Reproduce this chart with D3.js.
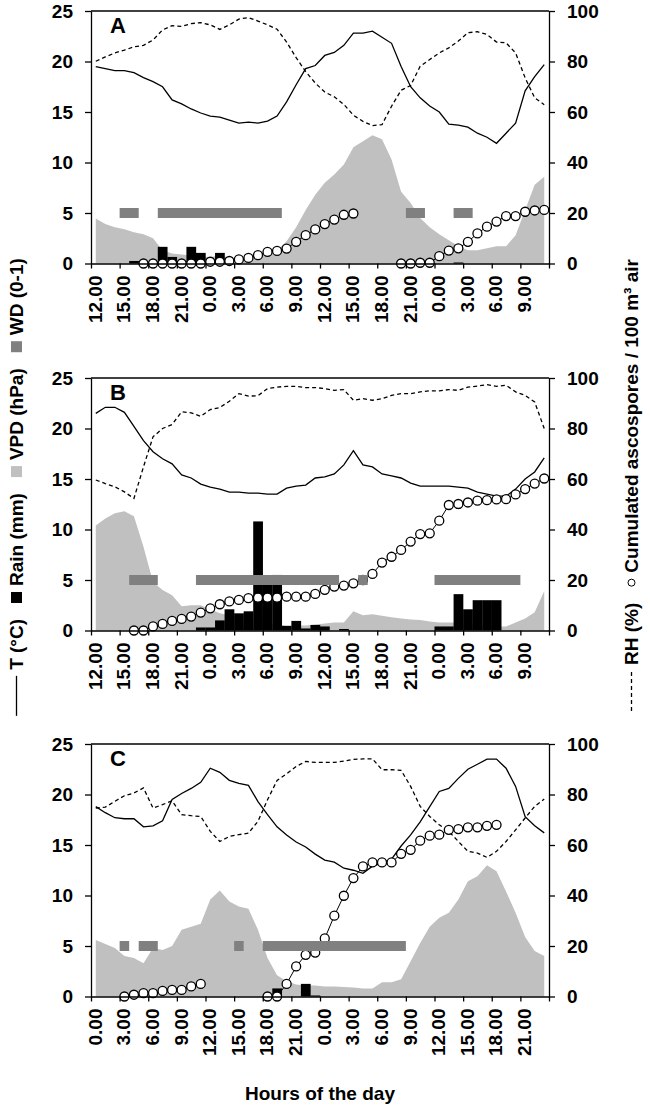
<!DOCTYPE html>
<html><head><meta charset="utf-8">
<script src="https://cdn.jsdelivr.net/npm/d3@7"></script>
<style>body{margin:0;background:#fff}svg{display:block}</style>
</head><body>
<svg id="c" width="650" height="1115"></svg>
<script>
// ---------- DATA (hourly, 48 categories per panel) ----------
const ticksAB = ["12.00","15.00","18.00","21.00","0.00","3.00","6.00","9.00","12.00","15.00","18.00","21.00","0.00","3.00","6.00","9.00"];
const ticksC  = ["0.00","3.00","6.00","9.00","12.00","15.00","18.00","21.00","0.00","3.00","6.00","9.00","12.00","15.00","18.00","21.00"];
const leftTicks = [0,5,10,15,20,25];
const rightTicks = [0,20,40,60,80,100];

const tempA = [19.5,19.3,19.1,19.1,18.9,18.4,18.0,17.5,16.2,15.8,15.3,14.9,14.6,14.5,14.2,13.9,14.0,13.9,14.1,14.6,16.0,17.7,19.3,19.6,20.6,20.9,21.6,22.8,22.8,23.0,22.4,21.8,19.5,17.5,16.4,15.6,15.0,13.8,13.7,13.5,12.9,12.5,11.9,12.9,13.9,17.1,18.5,19.7];
const rhA = [80.1,81.8,83.4,84.5,85.8,86.4,88.5,92.5,94.2,93.9,95.0,95.4,94.5,92.7,94.5,96.8,97.4,96.0,94.5,92.8,87.7,81.5,76.0,71.5,67.9,66.0,63.0,58.7,56.3,54.6,55.0,62.3,68.6,70.5,78.1,80.8,83.4,85.4,88.1,91.4,91.8,90.7,87.7,87.4,83.4,73.5,65.6,62.9];
const vpdA = [4.45,3.9,3.6,3.4,3.1,2.9,2.5,1.3,1.0,0.9,0.8,0.7,0.65,0.8,0.6,0.3,0.5,0.8,1.0,1.3,2.2,3.6,5.3,6.8,8.0,8.8,9.8,11.5,12.1,12.7,12.3,10.3,7.1,6.0,4.5,3.6,2.9,2.3,1.7,1.3,1.3,1.5,1.7,1.7,2.8,5.3,7.8,8.6];
const rainA = [0,0,0,0,0.25,0,0,1.65,0.65,0,1.65,1.05,0,1.05,0,0,0,0,0,0,0,0,0,0,0,0,0,0,0,0,0,0,0,0,0,0,0,0,0.1,0,0,0,0,0,0,0,0,0];
const wdA = [0,0,0,1,1,0,0,1,1,1,1,1,1,1,1,1,1,1,1,1,0,0,0,0,0,0,0,0,0,0,0,0,0,1,1,0,0,0,1,1,0,0,0,0,0,0,0,0];
const sporesA = [null,null,null,null,null,0,0,0,0,0,0,0,0.7,0.7,1.0,1.6,2.2,3.3,4.6,5.0,5.9,8.6,11.2,13.5,15.6,17.4,19.3,19.8,null,null,null,null,0,0,0.3,0.3,2.9,5.1,6.0,8.6,11.9,14.6,16.6,18.8,18.8,20.5,21.0,21.2];

const tempB = [21.5,22.1,22.1,21.6,20.2,18.8,17.7,17.0,16.5,15.4,15.1,14.5,14.2,14.0,13.7,13.7,13.6,13.6,13.5,13.5,14.1,14.3,14.4,15.1,15.2,15.5,16.4,17.8,16.4,16.2,15.5,15.3,15.1,14.6,14.3,14.3,14.3,14.3,14.2,14.1,13.7,13.5,13.3,13.3,14.0,15.0,15.7,17.1];
const rhB = [59.6,58.2,56.9,54.9,52.3,64.8,76.7,80.0,81.6,86.6,86.2,84.8,87.5,88.3,90.8,93.8,92.8,93.0,95.8,96.4,96.7,96.7,96.2,96.2,95.8,95.1,95.4,91.2,91.8,91.2,91.8,93.1,93.8,93.8,94.5,94.9,94.9,95.4,95.1,96.4,96.8,97.4,96.7,97.1,94.5,93.1,90.5,80.0];
const vpdB = [10.4,11.1,11.6,11.8,11.3,8.3,4.8,4.0,3.5,2.4,2.5,2.5,2.1,1.7,1.5,1.2,1.0,0.9,0.8,0.6,0.5,0.5,0.5,0.6,0.7,0.8,0.8,1.9,1.5,1.6,1.45,1.3,1.2,1.1,1.05,0.9,0.8,0.8,0.8,0.7,0.6,0.5,0.4,0.4,0.8,1.2,1.8,3.9];
const rainB = [0,0,0,0,0,0,0,0,0,0,0,0.3,0.3,1.0,2.1,1.7,1.9,10.8,5.2,5.5,0.45,0.95,0.2,0.55,0.4,0,0.15,0,0,0,0,0,0,0,0,0,0.4,0.4,3.6,2.1,3.0,3.0,3.0,0,0,0,0,0];
const wdB = [0,0,0,0,1,1,1,0,0,0,0,1,1,1,1,1,1,1,1,1,1,1,1,1,1,1,0,0,1,0,0,0,0,0,0,0,1,1,1,1,1,1,1,1,1,0,0,0];
const sporesB = [null,null,null,null,0,0,1.6,2.6,3.8,4.6,5.5,7.1,8.8,10.4,11.5,12.1,12.8,13.0,13.0,13.0,13.4,13.4,13.4,14.5,16.1,17.4,17.8,18.7,20.0,22.4,26.9,29.2,31.9,35.2,38.2,38.5,43.5,49.7,50.1,50.7,51.4,51.6,51.9,52.0,53.9,56.0,58.2,60.2];

const tempC = [18.8,18.2,17.7,17.6,17.6,16.8,16.9,17.4,19.5,20.1,20.6,21.2,22.6,22.2,21.4,21.1,20.9,19.3,18.0,16.8,16.0,15.3,14.8,14.1,13.5,13.3,12.7,12.5,12.2,12.9,13.2,13.6,14.9,16.0,17.3,18.8,20.3,20.6,21.6,22.5,23.0,23.5,23.5,22.6,20.8,17.8,16.9,16.2];
const rhC = [74.6,75.0,77.3,79.5,80.6,82.6,74.6,76.0,77.5,72.0,71.6,71.3,65.4,61.4,63.4,64.1,64.7,69.4,77.9,85.6,88.2,91.1,93.1,92.7,92.7,92.7,93.2,93.9,94.1,94.1,89.8,89.8,89.6,83.2,75.3,71.3,68.0,65.4,61.4,57.5,56.8,55.1,57.5,61.4,66.0,70.7,75.3,78.2];
const vpdC = [5.6,5.2,4.8,4.0,3.8,3.3,4.8,4.6,5.0,6.6,6.9,7.2,9.6,10.5,9.4,8.9,8.7,6.6,3.8,2.1,1.5,1.2,1.1,1.1,1.0,1.0,0.95,0.9,0.8,0.8,1.4,1.4,1.7,3.5,5.3,6.9,7.8,8.3,9.6,11.4,11.9,13.0,12.4,10.4,8.3,5.9,4.5,4.0];
const rainC = [0,0,0,0,0,0,0,0,0,0,0,0,0,0,0,0,0,0,0,0.8,0,0,1.25,0.1,0,0,0,0,0,0,0,0,0,0,0,0,0,0,0,0,0,0,0,0,0,0,0,0];
const wdC = [0,0,0,1,0,1,1,0,0,0,0,0,0,0,0,1,0,0,1,1,1,1,1,1,1,1,1,1,1,1,1,1,1,0,0,0,0,0,0,0,0,0,0,0,0,0,0,0];
const sporesC = [null,null,null,0,0.7,1.3,1.3,2.2,2.6,2.6,4.0,5.0,null,null,null,null,null,null,0,0,5.0,11.9,16.5,17.4,23.0,32.0,39.9,46.9,51.5,53.1,53.1,53.1,56.5,58.1,61.7,63.7,64.1,66.0,66.3,67.0,67.0,67.6,68.0,null,null,null,null,null];

const panels = [
  {letter:"A", top:11,  ticks:ticksAB, temp:tempA, rh:rhA, vpd:vpdA, rain:rainA, wd:wdA, spores:sporesA},
  {letter:"B", top:378, ticks:ticksAB, temp:tempB, rh:rhB, vpd:vpdB, rain:rainB, wd:wdB, spores:sporesB},
  {letter:"C", top:744, ticks:ticksC,  temp:tempC, rh:rhC, vpd:vpdC, rain:rainC, wd:wdC, spores:sporesC}
];

// ---------- DRAW ----------
const FONT = "'Liberation Sans', Arial, Helvetica, sans-serif";
const svg = d3.select("#c");
svg.append("rect").attr("width",650).attr("height",1115).attr("fill","#fff");
const H = 252.5;
const x = d3.scaleLinear().domain([0,48]).range([91,549]);
const cw = x(1)-x(0);

// group consecutive wet hours into runs
function runs(arr){
  const out = []; let s = null;
  arr.forEach((v,i) => {
    if (v>0 && s===null) s = i;
    if ((v<=0 || i===arr.length-1) && s!==null){ out.push({s, e: v>0 ? i+1 : i}); s = null; }
  });
  return out;
}

panels.forEach(p => {
  const yL = d3.scaleLinear().domain([0,25]).range([p.top+H, p.top]);
  const yR = d3.scaleLinear().domain([0,100]).range([p.top+H, p.top]);
  const g = svg.append("g");

  // VPD area
  g.append("path").datum(p.vpd)
    .attr("fill","#c0c0c0")
    .attr("d", d3.area().x((d,i)=>x(i+0.5)).y0(yL(0)).y1(d=>yL(d)));

  // Rain bars
  g.selectAll(".rain").data(p.rain.map((v,i)=>({v,i})).filter(d=>d.v>0)).join("rect")
    .attr("x", d=>x(d.i)).attr("width", cw+0.2)
    .attr("y", d=>yL(d.v)).attr("height", d=>yL(0)-yL(d.v))
    .attr("fill","#000");

  // Temperature
  g.append("path").datum(p.temp).attr("fill","none").attr("stroke","#000").attr("stroke-width",1.3)
    .attr("d", d3.line().x((d,i)=>x(i+0.5)).y(d=>yL(d)));
  // RH
  g.append("path").datum(p.rh).attr("fill","none").attr("stroke","#000").attr("stroke-width",1.3)
    .attr("stroke-dasharray","4,3")
    .attr("d", d3.line().x((d,i)=>x(i+0.5)).y(d=>yR(d)));

  // Spores
  g.append("path").datum(p.spores).attr("fill","none").attr("stroke","#000").attr("stroke-width",1)
    .attr("d", d3.line().defined(d=>d!==null).x((d,i)=>x(i+0.5)).y(d=>yR(d)));
  g.selectAll(".sp").data(p.spores.map((v,i)=>({v,i})).filter(d=>d.v!==null)).join("circle")
    .attr("cx", d=>x(d.i+0.5)).attr("cy", d=>yR(d.v)).attr("r",4.5)
    .attr("fill","#fff").attr("stroke","#000").attr("stroke-width",1.3);

  // WD (runs of wet hours, drawn at level 5 of the left axis)
  g.selectAll(".wd").data(runs(p.wd)).join("rect")
    .attr("x", d=>x(d.s)).attr("width", d=>x(d.e)-x(d.s))
    .attr("y", yL(5)-5).attr("height", 10)
    .attr("fill","#808080");

  // Axes
  const styleAxis = sel => {
    sel.selectAll("path,line").attr("stroke","#000").attr("stroke-width",1.3);
    sel.selectAll("text").attr("font-family",FONT).attr("font-size",19).attr("font-weight","bold").attr("fill","#000");
  };
  g.append("g").attr("transform",`translate(${x(0)},0)`)
    .call(d3.axisLeft(yL).tickValues(leftTicks).tickSize(6).tickSizeOuter(0).tickPadding(12))
    .call(styleAxis);
  g.append("g").attr("transform",`translate(${x(48)},0)`)
    .call(d3.axisRight(yR).tickValues(rightTicks).tickSize(6).tickSizeOuter(0).tickPadding(12))
    .call(styleAxis);
  g.append("g").attr("transform",`translate(0,${yL(0)})`)
    .call(d3.axisBottom(x).tickValues(d3.range(0,49,3)).tickSize(5).tickSizeOuter(0).tickFormat(""))
    .call(styleAxis);
  g.append("line").attr("x1",x(0)).attr("x2",x(48)).attr("y1",p.top).attr("y2",p.top)
    .attr("stroke","#000").attr("stroke-width",1.3);

  // x tick labels (rotated)
  g.selectAll(".xl").data(p.ticks).join("text")
    .attr("transform",(d,i)=>`translate(${x(i*3)+4},${yL(0)+12}) rotate(-90)`)
    .attr("dy","0.35em").attr("text-anchor","end")
    .attr("font-family",FONT).attr("font-size",19).attr("font-weight","bold")
    .text(d=>d);

  // panel letter
  g.append("text").attr("x",x(0)+19).attr("y",p.top+22)
    .attr("font-family",FONT).attr("font-size",22).attr("font-weight","bold").text(p.letter);
});

// x axis title
svg.append("text").attr("x",320).attr("y",1100).attr("text-anchor","middle")
  .attr("font-family",FONT).attr("font-size",19).attr("font-weight","bold").text("Hours of the day");

// rotated legends (reading bottom -> top)
function legend(bx, centerY, items){
  const g = svg.append("g");
  let cx = 0;
  items.forEach((it,k) => {
    if (k>0) cx += 16;
    if (it.sym==="line" || it.sym==="dash"){
      g.append("line").attr("x1",cx).attr("x2",cx+40).attr("y1",-6.5).attr("y2",-6.5)
        .attr("stroke","#000").attr("stroke-width",1.3)
        .attr("stroke-dasharray", it.sym==="dash" ? "4,3" : null);
      cx += 40 + 6;
    } else if (it.sym==="square"){
      g.append("rect").attr("x",cx).attr("y",-12).attr("width",11).attr("height",11).attr("fill",it.color);
      cx += 11 + 6;
    } else if (it.sym==="circle"){
      g.append("circle").attr("cx",cx+4).attr("cy",-6.5).attr("r",3.5).attr("fill","#fff").attr("stroke","#000").attr("stroke-width",1);
      cx += 8 + 6;
    }
    const t = g.append("text").attr("x",cx).attr("y",0)
      .attr("font-family",FONT).attr("font-size",19).attr("font-weight","bold").text(it.label);
    cx += t.node().getComputedTextLength();
  });
  g.attr("transform",`translate(${bx},${centerY + cx/2}) rotate(-90)`);
}
legend(23, 487, [
  {sym:"line", label:"T (°C)"},
  {sym:"square", color:"#000", label:"Rain (mm)"},
  {sym:"square", color:"#c0c0c0", label:"VPD (hPa)"},
  {sym:"square", color:"#808080", label:"WD (0-1)"}
]);
legend(638, 485, [
  {sym:"dash", label:"RH (%)"},
  {sym:"circle", label:"Cumulated ascospores / 100 m³ air"}
]);
</script>
</body></html>
